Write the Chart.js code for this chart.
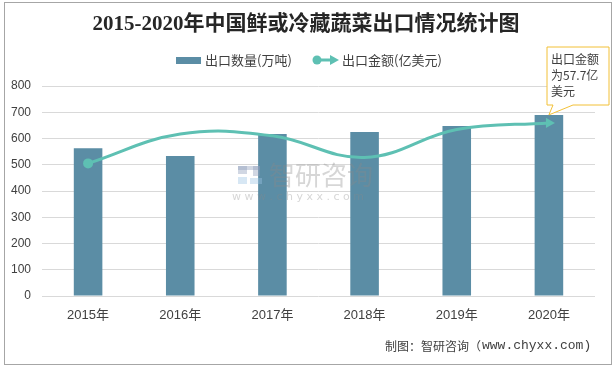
<!DOCTYPE html>
<html>
<head>
<meta charset="utf-8">
<script src="https://cdn.jsdelivr.net/npm/chart.js@4"></script>
<style>
    body { margin: 0; background: #fff; }
    #wrap { position: relative; width: 616px; height: 368px; }
    #frame { position: absolute; left: 4px; top: 2px; width: 606px; height: 361px; border: 1px solid #a6a6a6; }
    canvas { position: absolute; left: 0; top: 0; }
</style>
</head>
<body>
<div id="wrap">
    <div id="frame"></div>
    <canvas id="chart" width="616" height="368"></canvas>
</div>
<script>
const years = ['2015年', '2016年', '2017年', '2018年', '2019年', '2020年'];
const volume = [563, 533, 617, 625, 648, 690];      // 出口数量(万吨)
const amount = [44.2, 54.0, 53.4, 46.2, 55.5, 57.7]; // 出口金额(亿美元)
const yTicks = [0, 100, 200, 300, 400, 500, 600, 700, 800];

const BAR = '#5b8da5';
const LINE = '#5ec0b3';
const CJK = '"Noto Sans CJK SC", sans-serif';

// title, legend, watermark, footer and the 57.7 callout
const decor = {
    id: 'decor',
    afterDatasetsDraw(chart) {
        // watermark sits over the bars
        const ctx = chart.ctx;
        ctx.save();
        ctx.globalAlpha = 0.4;
        ctx.fillStyle = '#8d9ab8';
        ctx.fillRect(238, 166, 9, 8);
        ctx.fillRect(238, 166, 22, 4);
        ctx.fillRect(253, 166, 7, 10);
        ctx.fillStyle = '#9cc3e3';
        ctx.fillRect(238, 177, 9, 7);
        ctx.fillRect(250, 178, 12, 6);
        ctx.globalAlpha = 0.35;
        ctx.fillStyle = '#8a8a8a';
        ctx.font = '26px ' + CJK;
        ctx.textBaseline = 'middle';
        ctx.fillText('智研咨询', 269, 175);
        ctx.font = '11px "DejaVu Sans"';
        ctx.fillText('w w w . c h y x x . c o m', 232, 197);
        ctx.restore();
    },
    afterDraw(chart) {
        const ctx = chart.ctx;
        ctx.save();
        ctx.textBaseline = 'middle';

        ctx.fillStyle = '#262626';
        ctx.font = 'bold 21px "Liberation Serif", ' + CJK;
        ctx.textAlign = 'center';
        ctx.fillText('2015-2020年中国鲜或冷藏蔬菜出口情况统计图', 306, 25);

        // legend
        ctx.textAlign = 'left';
        ctx.font = '13px ' + CJK;
        ctx.fillStyle = BAR;
        ctx.fillRect(176, 57, 25, 7);
        ctx.fillStyle = '#404040';
        ctx.fillText('出口数量(万吨)', 205, 60);
        ctx.strokeStyle = LINE;
        ctx.fillStyle = LINE;
        ctx.lineWidth = 3;
        ctx.beginPath();
        ctx.moveTo(317, 60);
        ctx.lineTo(332, 60);
        ctx.stroke();
        ctx.beginPath();
        ctx.arc(317, 60, 4.5, 0, Math.PI * 2);
        ctx.fill();
        ctx.beginPath();
        ctx.moveTo(339, 60);
        ctx.lineTo(330, 55);
        ctx.lineTo(330, 65);
        ctx.closePath();
        ctx.fill();
        ctx.fillStyle = '#404040';
        ctx.fillText('出口金额(亿美元)', 342, 60);

        // footer
        ctx.font = '12px ' + CJK;
        ctx.fillText('制图：智研咨询（', 385, 346);
        ctx.font = '13px "Liberation Mono"';
        ctx.fillText('www.chyxx.com)', 482, 346);

        // callout for the last amount point
        const pt = chart.getDatasetMeta(1).data[amount.length - 1];
        ctx.beginPath();
        ctx.moveTo(547, 47);
        ctx.lineTo(609, 47);
        ctx.lineTo(609, 105);
        ctx.lineTo(573, 105);
        ctx.lineTo(pt.x, pt.y);
        ctx.lineTo(553, 105);
        ctx.lineTo(547, 105);
        ctx.closePath();
        ctx.fillStyle = '#fff';
        ctx.fill();
        ctx.strokeStyle = '#f2c037';
        ctx.lineWidth = 1;
        ctx.stroke();
        ctx.fillStyle = '#404040';
        ctx.font = '12px ' + CJK;
        ctx.fillText('出口金额', 551, 59);
        ctx.fillText('为' + amount[amount.length - 1] + '亿', 551, 75);
        ctx.fillText('美元', 551, 91);
        ctx.restore();
    }
};

new Chart(document.getElementById('chart'), {
    data: {
        labels: years,
        datasets: [{
            type: 'line',
            label: '出口金额(亿美元)',
            data: amount,
            yAxisID: 'y1',
            borderColor: LINE,
            backgroundColor: LINE,
            borderWidth: 3,
            tension: 0.4,
            pointRadius: amount.map((v, i) => i === 0 ? 5 : (i === amount.length - 1 ? 6 : 0)),
            pointStyle: amount.map((v, i) => i === amount.length - 1 ? 'triangle' : 'circle'),
            pointRotation: 90,
            pointBorderWidth: 0,
            order: 0
        }, {
            type: 'bar',
            label: '出口数量(万吨)',
            data: volume,
            yAxisID: 'y',
            backgroundColor: BAR,
            categoryPercentage: 1,
            barPercentage: 0.31,
            order: 1
        }]
    },
    options: {
        responsive: false,
        animation: false,
        layout: { padding: { top: 86, right: 21, left: 0, bottom: 0 } },
        plugins: {
            legend: { display: false },
            title: { display: false },
            tooltip: { enabled: false }
        },
        scales: {
            x: {
                grid: { display: false, drawTicks: false },
                border: { display: false },
                ticks: { color: '#404040', font: { size: 13, family: '"Liberation Sans", ' + CJK }, padding: 12 },
                afterFit: s => { s.height = 72; }
            },
            y: {
                min: 0,
                max: 800,
                afterBuildTicks: s => { s.ticks = yTicks.map(v => ({ value: v })); },
                grid: { color: '#d9d9d9', drawTicks: false },
                border: { display: false },
                ticks: { color: '#404040', font: { size: 12, family: '"Liberation Sans"' }, padding: 11 },
                afterFit: s => { s.width = 42; }
            },
            y1: {
                display: false,
                min: 0,
                max: 70
            }
        }
    },
    plugins: [decor]
});
</script>
</body>
</html>
